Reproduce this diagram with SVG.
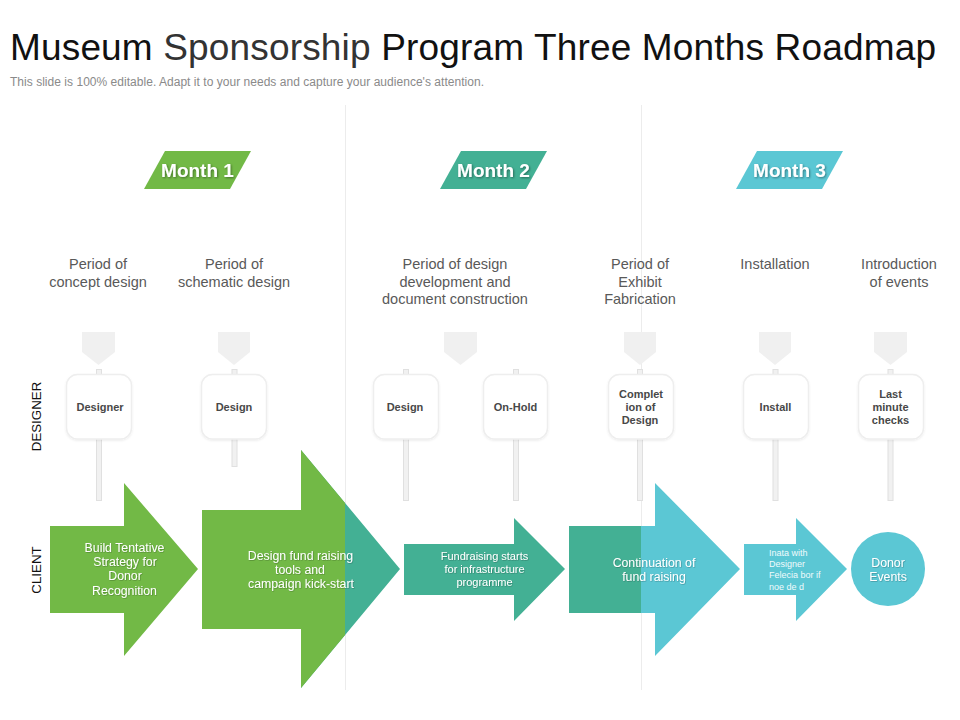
<svg xmlns="http://www.w3.org/2000/svg" width="960" height="720" viewBox="0 0 960 720">
<style>
text{font-family:"Liberation Sans",Arial,sans-serif}
.green{fill:#72B946}.teal{fill:#43B094}.blue{fill:#5BC7D4}
.divider{stroke:#ececec;stroke-width:1;fill:none}
.pole{fill:#f1f1f1;stroke:#e0e0e0;stroke-width:1}
.pent{fill:#f0f0f0}
.card{fill:#fff;stroke:#eeeeee;stroke-width:1.5;filter:url(#cs)}
.month{font-size:19px;font-weight:bold;fill:#fff;text-anchor:middle;filter:url(#ts)}
.period{font-size:14.5px;fill:#595959;text-anchor:middle}
.cardt{font-size:11px;font-weight:bold;fill:#484848;text-anchor:middle}
.arrowt{font-size:12.3px;fill:#fff;text-anchor:middle;filter:url(#ts2)}
.small{font-size:11px}
.tiny{font-size:9px;fill:#f0fbfc}
.side{font-size:13.3px;fill:#111;text-anchor:middle}
</style>
<defs>
<filter id="ts" x="-20%" y="-30%" width="140%" height="160%"><feDropShadow dx="1" dy="1" stdDeviation="0.8" flood-color="#000" flood-opacity="0.4"/></filter>
<filter id="ts2" x="-20%" y="-30%" width="140%" height="160%"><feDropShadow dx="0.6" dy="0.6" stdDeviation="0.5" flood-color="#000" flood-opacity="0.3"/></filter>
<filter id="cs" x="-10%" y="-10%" width="120%" height="120%"><feDropShadow dx="0" dy="1" stdDeviation="1" flood-color="#000" flood-opacity="0.08"/></filter>
<clipPath id="leftOf345"><rect x="0" y="400" width="345" height="320"/></clipPath>
<clipPath id="leftOf641"><rect x="500" y="400" width="141" height="320"/></clipPath>
</defs>
<rect width="960" height="720" fill="#fff"/>
<g id="title">
<text x="10" y="60" font-size="37" fill="#111" textLength="926" lengthAdjust="spacing">Museum <tspan fill="#333">Sponsorship</tspan> Program Three Months Roadmap</text>
<text x="10" y="86" font-size="12" fill="#8a8a8a" textLength="474" lengthAdjust="spacing">This slide is 100% editable. Adapt it to your needs and capture your audience's attention.</text>
</g>
<g id="connectors">
<line class="divider" x1="345.5" y1="105" x2="345.5" y2="690"/>
<line class="divider" x1="641.5" y1="105" x2="641.5" y2="690"/>
<rect class="pole" x="96.5" y="369.5" width="5" height="131"/>
<rect class="pole" x="232" y="369.5" width="5" height="97"/>
<rect class="pole" x="403.5" y="369.5" width="5" height="131"/>
<rect class="pole" x="513.5" y="369.5" width="5" height="131"/>
<rect class="pole" x="637.5" y="369.5" width="5" height="131"/>
<rect class="pole" x="773" y="369.5" width="5" height="131"/>
<rect class="pole" x="888" y="369.5" width="5" height="131"/>
</g>
<g id="month-1"><polygon class="green" points="165,151 251,151 230,189 144,189"/><text class="month" x="197.500" y="177">Month 1</text></g>
<g id="month-2"><polygon class="teal" points="461,151 547,151 526,189 440,189"/><text class="month" x="493.500" y="177">Month 2</text></g>
<g id="month-3"><polygon class="blue" points="757,151 843,151 822,189 736,189"/><text class="month" x="789.500" y="177">Month 3</text></g>
<g id="period-1"><text class="period" x="98" y="269">Period of</text><text class="period" x="98" y="287">concept design</text><polygon class="pent" points="82,332 115,332 115,352 98.5,365 82,352"/></g>
<g id="period-2"><text class="period" x="234" y="269">Period of</text><text class="period" x="234" y="287">schematic design</text><polygon class="pent" points="218,332 250,332 250,352 234,365 218,352"/></g>
<g id="period-3"><text class="period" x="455" y="269">Period of design</text><text class="period" x="455" y="287">development and</text><text class="period" x="455" y="304">document construction</text><polygon class="pent" points="444,332 477,332 477,352 460.5,365 444,352"/></g>
<g id="period-4"><text class="period" x="640" y="269">Period of</text><text class="period" x="640" y="287">Exhibit</text><text class="period" x="640" y="304">Fabrication</text><polygon class="pent" points="624,332 656,332 656,352 640,365 624,352"/></g>
<g id="period-5"><text class="period" x="775" y="269">Installation</text><polygon class="pent" points="759,332 791,332 791,352 775,365 759,352"/></g>
<g id="period-6"><text class="period" x="899" y="269">Introduction</text><text class="period" x="899" y="287">of events</text><polygon class="pent" points="874,332 907,332 907,352 890.5,365 874,352"/></g>
<g id="card-1"><rect class="card" x="66.5" y="374.5" width="65" height="64.500" rx="11"/><text class="cardt" x="100" y="411">Designer</text></g>
<g id="card-2"><rect class="card" x="201.500" y="374.5" width="65" height="64.500" rx="11"/><text class="cardt" x="234" y="411">Design</text></g>
<g id="card-3"><rect class="card" x="373.500" y="374.5" width="65" height="64.500" rx="11"/><text class="cardt" x="405" y="411">Design</text></g>
<g id="card-4"><rect class="card" x="483.500" y="374.5" width="64" height="64.500" rx="11"/><text class="cardt" x="515.500" y="411">On-Hold</text></g>
<g id="card-5"><rect class="card" x="608.500" y="374.5" width="65" height="64.500" rx="11"/><text class="cardt" x="641" y="398">Complet</text><text class="cardt" x="640.500" y="411">ion of</text><text class="cardt" x="640" y="424">Design</text></g>
<g id="card-6"><rect class="card" x="743.500" y="374.5" width="65" height="64.500" rx="11"/><text class="cardt" x="775.500" y="411">Install</text></g>
<g id="card-7"><rect class="card" x="858.500" y="374.5" width="65" height="64.500" rx="11"/><text class="cardt" x="890.500" y="398">Last</text><text class="cardt" x="890.500" y="411">minute</text><text class="cardt" x="890.500" y="424">checks</text></g>
<g id="lane-labels"><text class="side" transform="translate(40.500,416.500) rotate(-90)">DESIGNER</text><text class="side" transform="translate(40.500,570) rotate(-90)">CLIENT</text></g>
<g id="arrow-1"><polygon class="green" points="50,526 124,526 124,483 198,569 124,656 124,613 50,613"/><text class="arrowt" x="124.500" y="552">Build Tentative</text><text class="arrowt" x="125" y="566">Strategy for</text><text class="arrowt" x="125" y="580">Donor</text><text class="arrowt" x="124.500" y="595">Recognition</text></g>
<g id="arrow-2"><polygon class="teal" points="202,510 301,510 301,450 400,569 301,688 301,629 202,629"/><polygon class="green" clip-path="url(#leftOf345)" points="202,510 301,510 301,450 400,569 301,688 301,629 202,629"/><text class="arrowt" x="300.500" y="560">Design fund raising</text><text class="arrowt" x="300" y="574">tools and</text><text class="arrowt" x="301" y="588">campaign kick-start</text></g>
<g id="arrow-3"><polygon class="teal" points="404,544 514,544 514,518 565,569 514,621 514,595 404,595"/><text class="arrowt small" x="484.500" y="560">Fundraising starts</text><text class="arrowt small" x="484.500" y="573">for infrastructure</text><text class="arrowt small" x="484.500" y="586">programme</text></g>
<g id="arrow-4"><polygon class="blue" points="569,526 655,526 655,483 740,569 655,656 655,613 569,613"/><polygon class="teal" clip-path="url(#leftOf641)" points="569,526 655,526 655,483 740,569 655,656 655,613 569,613"/><text class="arrowt" x="654" y="567">Continuation of</text><text class="arrowt" x="654" y="581">fund raising</text></g>
<g id="arrow-5"><polygon class="blue" points="744,544 796,544 796,518 847,569 796,621 796,595 744,595"/><text class="tiny" x="769" y="556">Inata with</text><text class="tiny" x="769" y="567">Designer</text><text class="tiny" x="769" y="578">Felecia bor if</text><text class="tiny" x="769" y="590">noe de d</text></g>
<g id="circle-donor"><circle class="blue" cx="888" cy="569" r="37"/><text class="arrowt" x="888" y="567">Donor</text><text class="arrowt" x="888" y="581">Events</text></g>
</svg>
